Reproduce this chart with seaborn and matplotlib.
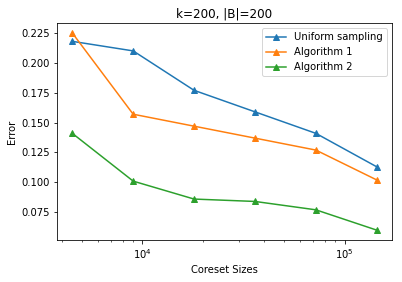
import matplotlib
matplotlib.use("Agg")
import matplotlib.pyplot as plt
import seaborn as sns

# Coreset sizes (log x-axis)
sizes = [4500, 9000, 18000, 36000, 72000, 144000]

# Error per method
uniform = [0.218, 0.210, 0.177, 0.159, 0.141, 0.113]
algo1 = [0.225, 0.157, 0.147, 0.137, 0.127, 0.102]
algo2 = [0.141, 0.101, 0.086, 0.084, 0.077, 0.060]

series = [("Uniform sampling", uniform, "tab:blue"),
          ("Algorithm 1", algo1, "tab:orange"),
          ("Algorithm 2", algo2, "tab:green")]

fig, ax = plt.subplots(figsize=(402 / 72, 282 / 72), dpi=72)
fig.subplots_adjust(left=0.142, right=0.975, top=0.918, bottom=0.149)

for name, vals, c in series:
    sns.lineplot(x=sizes, y=vals, ax=ax, color=c, marker="^", markersize=6,
                 markeredgecolor=c, markeredgewidth=1, label=name)

ax.set_xscale("log")
ax.set_title("k=200, |B|=200")
ax.set_xlabel("Coreset Sizes")
ax.set_ylabel("Error")
ax.legend(loc="upper right")

fig.savefig("out.png", dpi=72)
